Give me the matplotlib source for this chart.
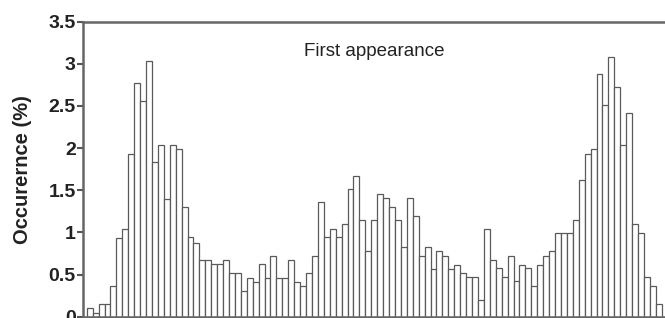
import numpy as np
import matplotlib.pyplot as plt

# Occurrence per bin (%), left to right
occurrence = [
    0.10, 0.04, 0.15, 0.15, 0.36, 0.93, 1.04, 1.93, 2.77, 2.56,
    3.03, 1.83, 2.04, 1.40, 2.04, 1.99, 1.30, 0.94, 0.88, 0.67,
    0.67, 0.62, 0.62, 0.67, 0.52, 0.52, 0.30, 0.46, 0.41, 0.62,
    0.46, 0.72, 0.46, 0.46, 0.67, 0.41, 0.36, 0.52, 0.72, 1.36,
    0.94, 1.04, 0.94, 1.10, 1.52, 1.67, 1.15, 0.78, 1.15, 1.46,
    1.41, 1.30, 1.15, 0.83, 1.41, 1.20, 0.72, 0.83, 0.57, 0.78,
    0.72, 0.57, 0.61, 0.52, 0.47, 0.47, 0.20, 1.04, 0.67, 0.58,
    0.47, 0.72, 0.42, 0.61, 0.58, 0.37, 0.61, 0.72, 0.78, 0.99,
    0.99, 0.99, 1.15, 1.62, 1.93, 1.99, 2.88, 2.51, 3.08, 2.72,
    2.04, 2.41, 1.10, 0.99, 0.47, 0.37, 0.15,
]
y_ticks = [0, 0.5, 1, 1.5, 2, 2.5, 3, 3.5]
y_tick_labels = ["0", "0.5", "1", "1.5", "2", "2.5", "3", "3.5"]
title_text = "First appearance"
y_label = "Occurernce (%)"

plt.rcParams['font.family'] = ['Liberation Sans', 'DejaVu Sans']

fig = plt.figure(figsize=(6.65, 3.18), dpi=100)
ax = fig.add_axes([82.7 / 665, 1.2 / 318, 1 - 82.7 / 665, (317 - 21.7) / 318])

x = np.arange(len(occurrence))
ax.bar(x, occurrence, width=1.0, align='edge', color='white',
       edgecolor='#5a5a5a', linewidth=0.9)

ax.set_xlim(-0.68, 97.55)
ax.set_ylim(0, 3.5)
ax.set_yticks(y_ticks)
ax.set_yticklabels(y_tick_labels, fontsize=14, fontweight='bold', color='#222222')
ax.set_xticks([])
ax.tick_params(axis='y', direction='out', length=4, width=1.5, color='#555555', pad=1)

for side in ['left', 'top', 'bottom']:
    ax.spines[side].set_color('#666666')
    ax.spines[side].set_linewidth(1.8)
ax.spines['right'].set_visible(False)

ax.set_ylabel(y_label, fontsize=14.5, fontweight='bold', color='#222222', labelpad=12)
ax.text(0.5, 0.897, title_text, transform=ax.transAxes, ha='center', va='center',
        fontsize=13.5, color='#222222')

fig.savefig('out.png', dpi=100)
